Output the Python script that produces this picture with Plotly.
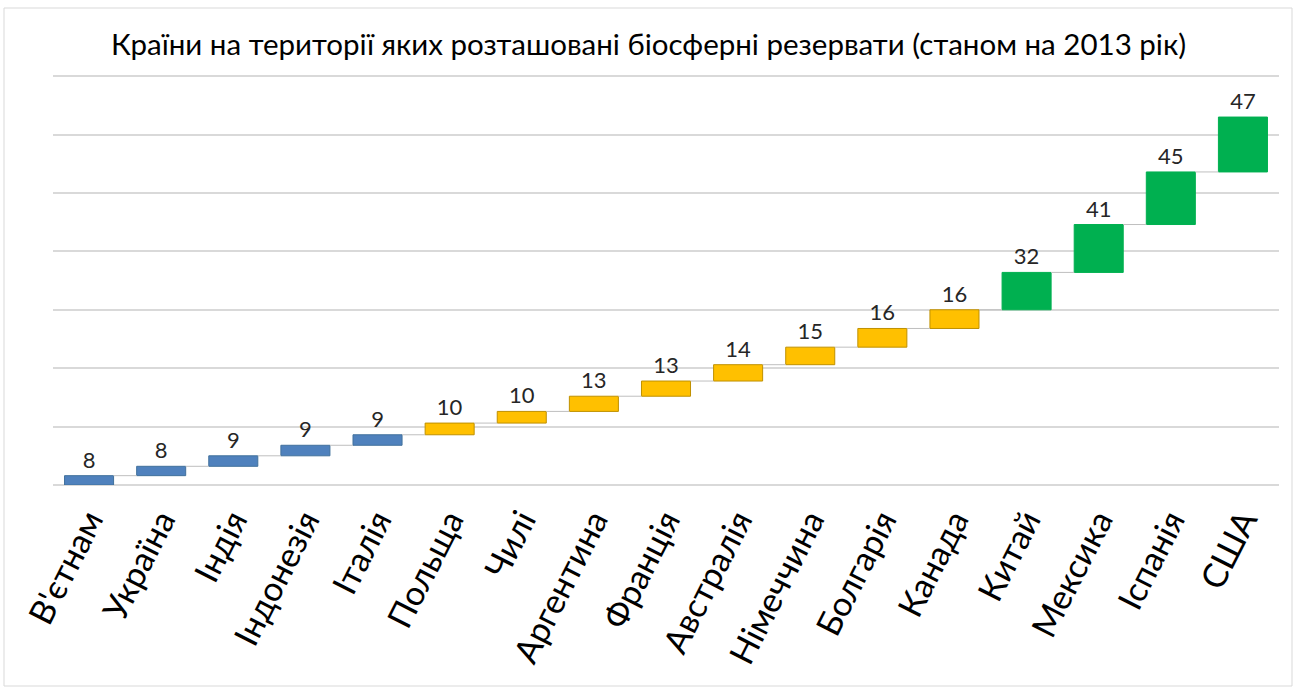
import plotly.graph_objects as go

countries = ["В'єтнам", "Україна", "Індія", "Індонезія", "Італія", "Польща", "Чилі",
             "Аргентина", "Франція", "Австралія", "Німеччина", "Болгарія", "Канада",
             "Китай", "Мексика", "Іспанія", "США"]
reserves = [8, 8, 9, 9, 9, 10, 10, 13, 13, 14, 15, 16, 16, 32, 41, 45, 47]
groups = ["low"] * 5 + ["mid"] * 8 + ["high"] * 4

fill_colors = {"low": "#4F81BD", "mid": "#FFC000", "high": "#00B050"}
line_colors = {"low": "#41719C", "mid": "#BF9000", "high": "#00B050"}

# waterfall bases: cumulative sum of previous values
bases = []
running = 0
for v in reserves:
    bases.append(running)
    running += v

xs = list(range(len(countries)))
bar_w = 0.68

W, H = 1297, 689
ML, MR, MT, MB = 53, 18, 75, 204
pw, ph = W - ML - MR, H - MT - MB

def px_x(p):
    return (p - ML) / pw

def px_y(p):
    return (H - MB - p) / ph

FONT = "Lato, 'Open Sans', sans-serif"

fig = go.Figure()
fig.add_trace(go.Bar(
    x=xs, y=reserves, base=bases, width=bar_w,
    marker=dict(color=[fill_colors[g] for g in groups],
                line=dict(color=[line_colors[g] for g in groups], width=1)),
    text=[str(v) for v in reserves], textposition="outside",
    textfont=dict(family=FONT, size=22, color="#262626"),
    cliponaxis=False, showlegend=False,
))

# connector lines between bars
cx, cy = [], []
for i in range(len(reserves) - 1):
    top = bases[i] + reserves[i]
    cx += [i + bar_w / 2, i + 1 - bar_w / 2, None]
    cy += [top, top, None]
fig.add_trace(go.Scatter(x=cx, y=cy, mode="lines",
                         line=dict(color="#BFBFBF", width=1),
                         hoverinfo="skip", showlegend=False))

fig.update_layout(
    width=W, height=H,
    margin=dict(l=ML, r=MR, t=MT, b=MB, autoexpand=False),
    paper_bgcolor="white", plot_bgcolor="white",
    title=dict(text="Країни на території яких розташовані біосферні резервати (станом на 2013 рік)",
               x=0.5, xanchor="center", xref="container", y=1 - 45 / H, yanchor="middle",
               font=dict(family=FONT, size=29.5, color="#000000")),
    font=dict(family=FONT),
    shapes=[dict(type="rect", xref="paper", yref="paper",
                 x0=px_x(4), x1=px_x(1292), y0=px_y(686), y1=px_y(8),
                 line=dict(color="#D9D9D9", width=1), layer="below")],
)
fig.update_xaxes(
    tickmode="array", tickvals=xs, ticktext=countries, tickangle=-63,
    tickfont=dict(family=FONT, size=34, color="#000000"),
    range=[-0.5, len(countries) - 0.5], showgrid=False, zeroline=False,
    showline=False, ticks="", automargin=False, ticklabelstandoff=8,
)
fig.update_yaxes(
    range=[0, 351], dtick=50, showgrid=True, gridcolor="#D9D9D9", gridwidth=1.5,
    showticklabels=False, zeroline=True, zerolinecolor="#D9D9D9", zerolinewidth=1.5,
    ticks="", automargin=False,
)

fig.write_html("out.html", config={"displayModeBar": False},
               post_script="document.body.style.margin='0';")
